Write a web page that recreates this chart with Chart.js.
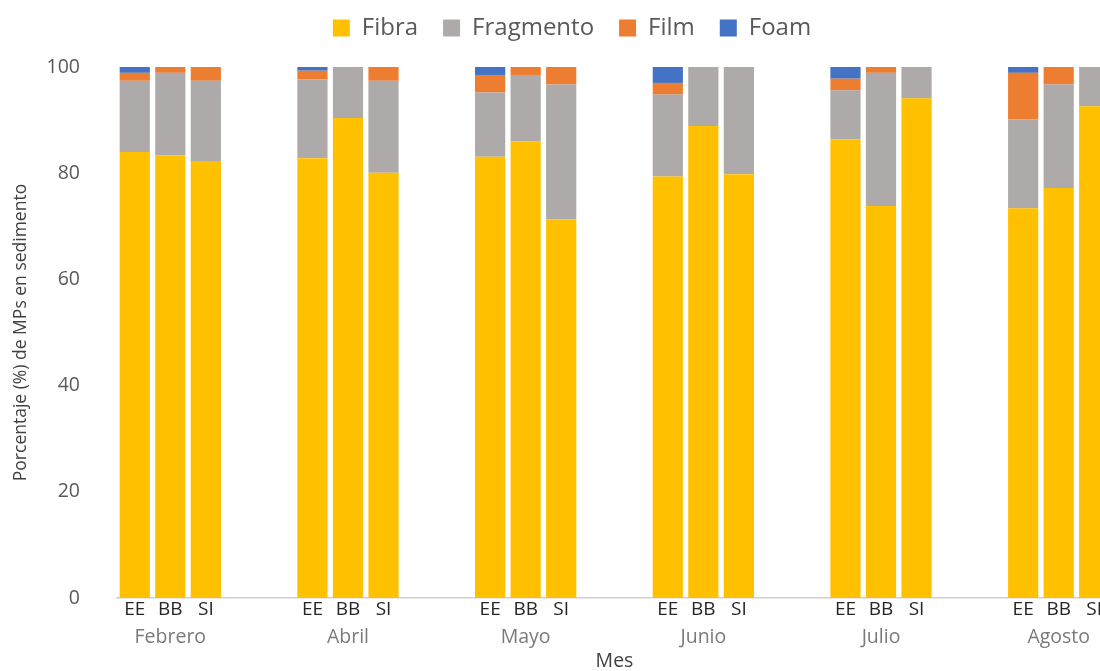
<!DOCTYPE html>
<html>
<head>
<meta charset="utf-8">
<script src="https://cdn.jsdelivr.net/npm/chart.js@4/dist/chart.umd.min.js"></script>
<style>
  html, body { margin: 0; padding: 0; background: #fff; overflow: hidden; }
  #wrap { width: 1142px; height: 671px; position: relative; }
</style>
</head>
<body>
<div id="wrap"><canvas id="chart"></canvas></div>
<script>
// Data
const months = ["Febrero", "Abril", "Mayo", "Junio", "Julio", "Agosto"];
const sites = ["EE", "BB", "SI"];
const yTicks = [0, 20, 40, 60, 80, 100];

const fibra     = [84.0, 83.4, 82.3, 82.8, 90.4, 80.1, 83.1, 86.0, 71.3, 79.4, 88.9, 79.8, 86.4, 73.8, 94.1, 73.4, 77.2, 92.6];
const fragmento = [13.4, 15.5, 15.1, 14.9,  9.6, 17.3, 12.1, 12.5, 25.4, 15.4, 11.1, 20.2,  9.2, 25.1,  5.9, 16.7, 19.5,  7.4];
const film      = [ 1.5,  1.1,  2.6,  1.6,  0,    2.6,  3.3,  1.5,  3.3,  2.2,  0,    0,    2.2,  1.1,  0,    8.8,  3.3,  0];
const foam      = [ 1.1,  0,    0,    0.7,  0,    0,    1.5,  0,    0,    3.0,  0,    0,    2.2,  0,    0,    1.1,  0,    0];

// two empty slots between month groups
const labels = [];
const slotOf = []; // data index -> category index
months.forEach((m, i) => {
  sites.forEach((s) => { slotOf.push(labels.length); labels.push(s); });
  if (i < months.length - 1) labels.push("", "");
});

function spread(values) {
  const out = labels.map(() => null);
  values.forEach((v, i) => { out[slotOf[i]] = v; });
  return out;
}

const FONT = "'Open Sans', sans-serif";

// month names under the site labels, plus the axis title
const monthLabels = {
  id: "monthLabels",
  afterDraw(chart) {
    const { ctx, chartArea, scales } = chart;
    ctx.save();
    ctx.font = "19.5px " + FONT;
    ctx.fillStyle = "#7a7a7a";
    ctx.textAlign = "center";
    ctx.textBaseline = "middle";
    months.forEach((m, i) => {
      const x = scales.x.getPixelForValue(slotOf[i * 3 + 1]);
      ctx.fillText(m, x, chartArea.bottom + 39);
    });
    ctx.fillStyle = "#404040";
    ctx.fillText("Mes", (chartArea.left + chartArea.right) / 2, chartArea.bottom + 63);
    ctx.restore();
  }
};

// extra room below the legend, and legend nudged right
const legendGap = {
  id: "legendGap",
  beforeInit(chart) {
    const fit = chart.legend.fit;
    chart.legend.fit = function () {
      fit.call(this);
      this.height += 17;
    };
  },
  afterLayout(chart) {
    chart.legend.left += 16;
    chart.legend.right += 16;
  }
};

const ds = (label, data, color) => ({
  label, data: spread(data), backgroundColor: color, borderWidth: 0,
  barPercentage: 0.85, categoryPercentage: 1.0, stack: "s"
});

new Chart(document.getElementById("chart"), {
  type: "bar",
  data: {
    labels,
    datasets: [
      ds("Fibra", fibra, "#FFC000"),
      ds("Fragmento", fragmento, "#AEAAAA"),
      ds("Film", film, "#ED7D31"),
      ds("Foam", foam, "#4472C4"),
    ],
  },
  options: {
    responsive: true,
    maintainAspectRatio: false,
    animation: false,
    layout: { padding: { top: -9, right: 30, bottom: 0, left: 0 } },
    plugins: {
      legend: {
        position: "top",
        labels: {
          boxWidth: 17, boxHeight: 17, padding: 25,
          color: "#595959", font: { family: FONT, size: 24 },
        },
      },
      tooltip: { enabled: false },
    },
    scales: {
      x: {
        stacked: true,
        grid: { display: false, drawTicks: false },
        border: { display: true, color: "#d0d0d0", width: 1.5 },
        ticks: {
          color: "#262626", font: { family: FONT, size: 19 },
          padding: 0, autoSkip: false, maxRotation: 0,
        },
        afterFit(scale) { scale.height = 73; },
      },
      y: {
        stacked: true,
        min: 0, max: 100,
        afterBuildTicks(scale) { scale.ticks = yTicks.map((v) => ({ value: v })); },
        grid: { display: false, drawTicks: false },
        border: { display: false },
        ticks: { color: "#595959", font: { family: FONT, size: 19.5 }, padding: 37 },
        title: {
          display: true, text: "Porcentaje (%) de MPs en sedimento",
          color: "#404040", font: { family: FONT, size: 17.5 }, padding: { top: 11, bottom: 0 },
        },
        afterFit(scale) { scale.width = 117; },
      },
    },
  },
  plugins: [monthLabels, legendGap],
});
</script>
</body>
</html>
